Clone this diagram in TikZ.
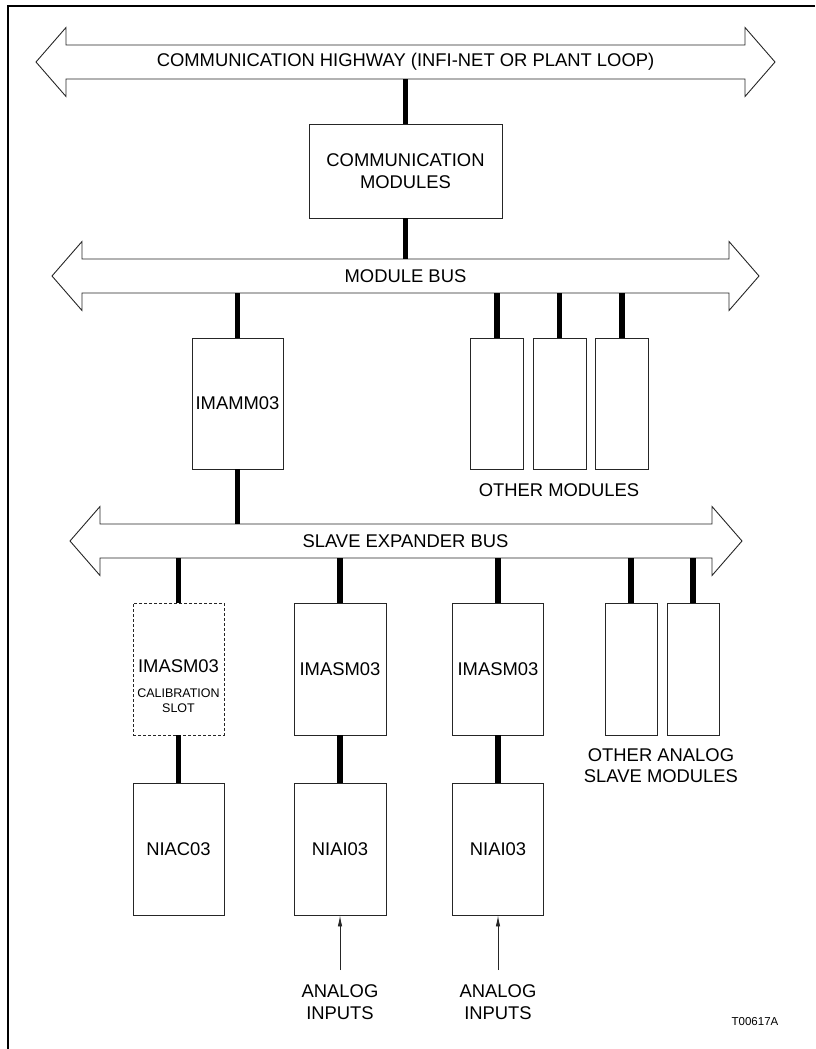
\documentclass[tikz,border=0pt]{standalone}
\usepackage{fontspec}
\setmainfont{Liberation Sans}
\usetikzlibrary{arrows.meta}
\newcommand\mainsz{\fontsize{18.4}{21.5}\selectfont}
\newcommand\smallsz{\fontsize{12.5}{15}\selectfont}
\newcommand\tagsz{\fontsize{11.5}{13}\selectfont}
\tikzset{
  outline/.style={draw=black!85, line width=0.9pt},
  modbox/.style={outline, inner sep=0pt, font=\mainsz, align=center, text=black},
  calbox/.style={modbox, dash pattern=on 3pt off 2pt},
  conn/.style={line width=5.5pt, black},
  lbl/.style={font=\mainsz, align=center, inner sep=0pt, text=black},
  note/.style={font=\smallsz, align=center, inner sep=0pt, text=black},
  inarrow/.style={draw=black!85, line width=0.8pt, -{Latex[length=11pt,width=4.5pt]}},
  frameline/.style={line width=1.3pt, black}
}
% double-headed bus arrow: left tip x, right tip x, centre y
\newcommand\drawbus[3]{%
  \draw[outline, line join=miter] (#1,#3) -- (#1+30,#3-34.5) -- (#1+30,#3-17) -- (#2-30,#3-17)
    -- (#2-30,#3-34.5) -- (#2,#3) -- (#2-30,#3+34.5) -- (#2-30,#3+17)
    -- (#1+30,#3+17) -- (#1+30,#3+34.5) -- cycle;}
\begin{document}
\begin{tikzpicture}[x=1pt,y=-1pt]
\useasboundingbox (0,0) rectangle (815,1049);
% frame
\draw[frameline] (8,1049) -- (8,6) -- (815,6);

% buses
\drawbus{36}{775}{62}
\drawbus{52}{759}{276}
\drawbus{70}{742}{541}
\node[lbl] (hwtext) at (405.5,62) {COMMUNICATION HIGHWAY (INFI-NET OR PLANT LOOP)};
\node[lbl] (mbtext) at (405.5,276) {MODULE BUS};
\node[lbl] (sbtext) at (405.5,541) {SLAVE EXPANDER BUS};
\coordinate (hwS) at (0,79);
\coordinate (mbN) at (0,259);
\coordinate (mbS) at (0,293);
\coordinate (sbN) at (0,524);
\coordinate (sbS) at (0,558);

% modules
\node[modbox, minimum width=193pt, minimum height=94pt] (comm) at (405.5,171) {COMMUNICATION\\MODULES};
\node[modbox, minimum width=91pt, minimum height=131pt] (imamm) at (237.5,403.5) {IMAMM03};
\node[modbox, minimum width=53pt, minimum height=131pt] (om1) at (497,403.5) {};
\node[modbox, minimum width=53pt, minimum height=131pt] (om2) at (559.5,403.5) {};
\node[modbox, minimum width=53pt, minimum height=131pt] (om3) at (622,403.5) {};
\node[lbl] (omtext) at (559,490) {OTHER MODULES};

\node[calbox, minimum width=91pt, minimum height=132pt] (cal) at (178.5,669) {};
\node[lbl] (caltext) at (178.5,666) {IMASM03};
\node[note] (calnote) at (178.5,700.5) {CALIBRATION\\SLOT};
\node[modbox, minimum width=92pt, minimum height=132pt] (asm1) at (340,669) {IMASM03};
\node[modbox, minimum width=91pt, minimum height=132pt] (asm2) at (498,669) {IMASM03};
\node[modbox, minimum width=52pt, minimum height=132pt] (oas1) at (631,669) {};
\node[modbox, minimum width=52pt, minimum height=132pt] (oas2) at (693,669) {};
\node[lbl] (oastext) at (661,765.5) {OTHER ANALOG\\SLAVE MODULES};

\node[modbox, minimum width=91pt, minimum height=132pt] (niac) at (178.5,849) {NIAC03};
\node[modbox, minimum width=92pt, minimum height=132pt] (niai1) at (340,849) {NIAI03};
\node[modbox, minimum width=91pt, minimum height=132pt] (niai2) at (498,849) {NIAI03};

% thick connectors
\draw[conn] (hwS -| comm.north) -- (comm.north);
\draw[conn] (comm.south) -- (comm.south |- mbN);
\draw[conn] (mbS -| imamm.north) -- (imamm.north);
\draw[conn] (mbS -| om1.north) -- (om1.north);
\draw[conn] (mbS -| om2.north) -- (om2.north);
\draw[conn] (mbS -| om3.north) -- (om3.north);
\draw[conn] (imamm.south) -- (imamm.south |- sbN);
\draw[conn] (sbS -| cal.north) -- (cal.north);
\draw[conn] (sbS -| asm1.north) -- (asm1.north);
\draw[conn] (sbS -| asm2.north) -- (asm2.north);
\draw[conn] (sbS -| oas1.north) -- (oas1.north);
\draw[conn] (sbS -| oas2.north) -- (oas2.north);
\draw[conn] (cal.south) -- (niac.north);
\draw[conn] (asm1.south) -- (niai1.north);
\draw[conn] (asm2.south) -- (niai2.north);

% analog inputs
\node[lbl] (ai1) at (340,1002) {ANALOG\\INPUTS};
\node[lbl] (ai2) at (498,1002) {ANALOG\\INPUTS};
\coordinate (ai1s) at (340,970);
\coordinate (ai2s) at (498,970);
\draw[inarrow] (ai1s) -- (niai1.south);
\draw[inarrow] (ai2s) -- (niai2.south);

\node[font=\tagsz, inner sep=0pt] (tag) at (755,1022) {T00617A};
\end{tikzpicture}
\end{document}
